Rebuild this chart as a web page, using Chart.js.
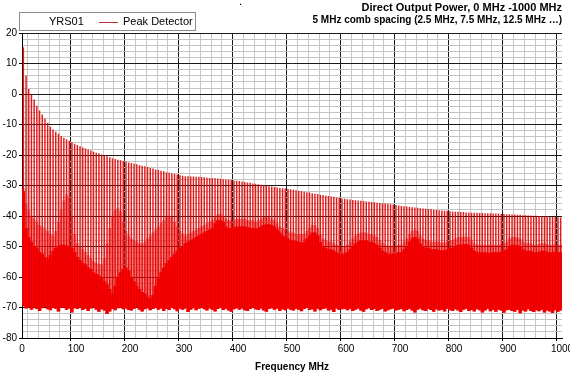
<!DOCTYPE html>
<html>
<head>
<meta charset="utf-8">
<title>Direct Output Power</title>
<script src="https://cdn.jsdelivr.net/npm/chart.js@4.4.1/dist/chart.umd.min.js"></script>
<style>
    html, body { margin: 0; padding: 0; background: #fff; }
    #wrap { position: relative; width: 570px; height: 380px; }
    #legend {
        position: absolute; left: 19px; top: 12px; width: 175px; height: 17px;
        border: 1px solid #8c8c8c; background: #fff;
        font: 11px 'Liberation Sans', Arial, sans-serif; color: #000;
    }
    #legend span { position: absolute; top: 2px; line-height: 13px; }
    #legend .swatch { position: absolute; left: 79px; top: 9px; width: 19px; height: 1px; background: #b83030; }
    #dot { position: absolute; left: 239px; top: -5px; font: 11px 'Liberation Sans', Arial, sans-serif; }
</style>
</head>
<body>
<div id="wrap">
    <canvas id="chart" width="570" height="380"></canvas>
    <div id="legend">
        <span style="left:29px">YRS01</span>
        <div class="swatch"></div>
        <span style="left:103px">Peak Detector</span>
    </div>
    <div id="dot">.</div>
</div>
<script>
// =========================
// DATA (dB, one entry per comb line)
// =========================
const combFreqs = [
    2.5, 7.5, 12.5, 17.5, 22.5, 27.5, 32.5, 37.5, 42.5, 47.5, 52.5, 57.5, 62.5, 67.5, 72.5, 77.5, 82.5, 87.5, 92.5, 97.5,
    102.5, 107.5, 112.5, 117.5, 122.5, 127.5, 132.5, 137.5, 142.5, 147.5, 152.5, 157.5, 162.5, 167.5, 172.5, 177.5, 182.5, 187.5, 192.5, 197.5,
    202.5, 207.5, 212.5, 217.5, 222.5, 227.5, 232.5, 237.5, 242.5, 247.5, 252.5, 257.5, 262.5, 267.5, 272.5, 277.5, 282.5, 287.5, 292.5, 297.5,
    302.5, 307.5, 312.5, 317.5, 322.5, 327.5, 332.5, 337.5, 342.5, 347.5, 352.5, 357.5, 362.5, 367.5, 372.5, 377.5, 382.5, 387.5, 392.5, 397.5,
    402.5, 407.5, 412.5, 417.5, 422.5, 427.5, 432.5, 437.5, 442.5, 447.5, 452.5, 457.5, 462.5, 467.5, 472.5, 477.5, 482.5, 487.5, 492.5, 497.5,
    502.5, 507.5, 512.5, 517.5, 522.5, 527.5, 532.5, 537.5, 542.5, 547.5, 552.5, 557.5, 562.5, 567.5, 572.5, 577.5, 582.5, 587.5, 592.5, 597.5,
    602.5, 607.5, 612.5, 617.5, 622.5, 627.5, 632.5, 637.5, 642.5, 647.5, 652.5, 657.5, 662.5, 667.5, 672.5, 677.5, 682.5, 687.5, 692.5, 697.5,
    702.5, 707.5, 712.5, 717.5, 722.5, 727.5, 732.5, 737.5, 742.5, 747.5, 752.5, 757.5, 762.5, 767.5, 772.5, 777.5, 782.5, 787.5, 792.5, 797.5,
    802.5, 807.5, 812.5, 817.5, 822.5, 827.5, 832.5, 837.5, 842.5, 847.5, 852.5, 857.5, 862.5, 867.5, 872.5, 877.5, 882.5, 887.5, 892.5, 897.5,
    902.5, 907.5, 912.5, 917.5, 922.5, 927.5, 932.5, 937.5, 942.5, 947.5, 952.5, 957.5, 962.5, 967.5, 972.5, 977.5, 982.5, 987.5, 992.5, 997.5,
];

// comb line tops
const peakLevels = [
    15.3, 5.9, 1.6, -0.3, -1.9, -3.9, -5.5, -6.8, -8.2, -9.5, -10.8, -11.7, -12.4, -13.1, -13.8, -14.4, -14.9, -15.4, -15.9, -16.4,
    -16.8, -17.2, -17.6, -17.9, -18.3, -18.6, -19.0, -19.3, -19.6, -19.9, -20.2, -20.5, -20.8, -21.1, -21.4, -21.6, -21.8, -22.0, -22.2, -22.5,
    -22.7, -22.9, -23.1, -23.4, -23.6, -23.8, -24.0, -24.3, -24.5, -24.8, -25.0, -25.2, -25.4, -25.7, -25.9, -26.1, -26.3, -26.5, -26.7, -26.9,
    -27.0, -27.0, -27.1, -27.1, -27.2, -27.2, -27.3, -27.4, -27.5, -27.6, -27.7, -27.7, -27.8, -27.9, -28.0, -28.1, -28.2, -28.3, -28.4, -28.5,
    -28.6, -28.8, -28.9, -29.1, -29.2, -29.4, -29.5, -29.7, -29.8, -30.0, -30.1, -30.3, -30.4, -30.6, -30.7, -30.9, -31.0, -31.1, -31.2, -31.3,
    -31.5, -31.6, -31.8, -32.0, -32.1, -32.3, -32.4, -32.6, -32.8, -32.9, -33.1, -33.2, -33.4, -33.5, -33.7, -33.8, -34.0, -34.1, -34.3, -34.4,
    -34.6, -34.7, -34.8, -34.9, -35.0, -35.1, -35.2, -35.3, -35.4, -35.5, -35.6, -35.7, -35.8, -35.9, -36.0, -36.1, -36.2, -36.3, -36.5, -36.6,
    -36.8, -36.9, -37.0, -37.1, -37.2, -37.3, -37.4, -37.5, -37.6, -37.7, -37.8, -37.9, -38.0, -38.1, -38.2, -38.3, -38.4, -38.4, -38.5, -38.6,
    -38.7, -38.7, -38.8, -38.8, -38.9, -38.9, -39.0, -39.0, -39.0, -39.1, -39.1, -39.2, -39.2, -39.2, -39.3, -39.3, -39.3, -39.4, -39.4, -39.5,
    -39.5, -39.6, -39.6, -39.7, -39.7, -39.8, -39.8, -39.9, -39.9, -40.0, -40.0, -40.1, -40.1, -40.2, -40.2, -40.3, -40.4, -40.4, -40.5, -40.6,
];

// upper edge of the medium-density spur region
const spurLevels = [
    -31, -36, -38, -40, -41, -42, -43, -43.5, -44.5, -45, -46, -46.5, -45, -42, -38, -35, -33, -34, -40, -46,
    -49, -50, -51, -52, -53, -54, -55, -55.5, -56, -56, -54, -49, -44, -40, -38, -37.5, -38.5, -42, -45, -46.5,
    -47.5, -48, -48.5, -49, -49, -48.5, -47.5, -46.5, -45.5, -44.5, -43.5, -42.5, -41.5, -40.5, -40, -40.5, -42, -43.5, -45, -46,
    -46.5, -46, -45.5, -45, -44.5, -44, -43.5, -43, -42.5, -42, -41.5, -40.5, -39.5, -39.5, -40, -41, -41.5, -41.5, -41.5, -41,
    -41, -41, -41, -41.5, -41.5, -41.5, -42, -41.5, -41, -40.5, -40.5, -40.5, -41, -41.5, -42.5, -43.5, -44, -44.5, -45, -45.5,
    -45.5, -46, -46, -46, -46, -45, -44, -43, -43, -44, -46, -47.5, -48, -48.5, -48.5, -49, -49.5, -50, -50, -50,
    -49.5, -48.5, -47.5, -46.5, -46, -45.5, -45.5, -45.5, -46, -46, -46.5, -47, -48, -49, -49.5, -50, -50, -50, -50, -49.5,
    -49.5, -48.5, -47.5, -46, -45, -44.5, -45, -46.5, -47.5, -48, -48, -48.5, -48.5, -48.5, -48.5, -48.8, -48.8, -48.5, -48, -48,
    -47.5, -47, -47, -46.8, -46.8, -47, -48, -49, -49.5, -49.5, -49.5, -49.5, -49.5, -49.5, -49.5, -49.5, -49.5, -49.3, -49, -48.5,
    -47.5, -47, -47, -47, -47.5, -48.5, -49, -49, -49, -49.5, -49.5, -49.3, -49, -49, -49.3, -49.5, -49.5, -49.3, -49.5, -49.5,
];

// top of the solid noise band
const noiseTop = [
    -32, -44, -47, -48.5, -50, -50.5, -52, -52.5, -53.5, -54, -53, -51.5, -50.5, -50, -49.5, -49.5, -49.8, -50, -50.5, -52,
    -53.5, -54.5, -55.5, -56, -57, -57.5, -58.5, -59, -59.5, -60.5, -61.5, -62.5, -64, -65.5, -63, -60, -58.5, -57.5, -57, -58,
    -60, -61.5, -63, -64, -65, -65.5, -66.5, -67, -66, -63, -60.5, -58.5, -57, -55.5, -54.5, -53.5, -52.5, -51.5, -50.5, -50,
    -49, -48.5, -48, -47.5, -47, -46.5, -46, -45.5, -45, -44.5, -44, -42.5, -41.5, -41.5, -42, -43.5, -44, -44, -43.8, -43.5,
    -43.5, -43.5, -43.5, -43.7, -44, -44, -44.2, -44, -43.5, -43, -42.8, -42.8, -43, -43.5, -44.5, -45.5, -46.5, -47, -47.5, -48,
    -48, -48.3, -48.6, -48.8, -48.5, -47.5, -46.5, -45.5, -45.5, -46.5, -48.5, -50, -50.5, -51, -51, -51.5, -52, -52.5, -52.5, -52.5,
    -52, -51, -50, -49, -48.5, -48, -48, -48, -48.5, -48.5, -49, -49.5, -50.5, -51.5, -52, -52.5, -52.5, -52.5, -52.5, -52,
    -52, -51, -50, -48.5, -47.5, -47, -47.5, -49, -50, -50.5, -50.5, -51, -51, -51, -51.2, -51.3, -51.3, -51, -50.5, -50.5,
    -50, -49.5, -49.5, -49.3, -49.3, -49.5, -50.5, -51.5, -52, -52, -52, -52, -52.2, -52.2, -52, -52, -52, -51.8, -51.5, -51,
    -50, -49.5, -49.5, -49.6, -50, -51, -51.5, -51.5, -51.5, -52, -52, -51.8, -51.5, -51.5, -51.8, -52, -52, -51.8, -52, -52,
];

// bottom of the noise band
const noiseFloor = [
    -69.5, -70.2, -69.8, -70.6, -69.9, -70.4, -71.0, -70.1, -69.7, -70.5, -70.8, -69.9, -70.3, -71.2, -70.0, -69.8, -70.6, -70.2, -71.5, -70.1,
    -70.4, -69.9, -70.7, -70.3, -71.0, -70.2, -69.8, -70.6, -71.3, -70.5, -70.9, -72.0, -71.2, -70.4, -70.8, -70.1, -69.9, -70.5, -70.2, -70.7,
    -70.9, -70.3, -69.8, -70.6, -71.2, -70.5, -70.1, -70.8, -70.4, -69.9, -70.6, -70.2, -71.0, -70.4, -70.7, -70.0, -70.5, -71.1, -70.3, -70.6,
    -70.2, -71.4, -70.6, -70.1, -70.8, -70.3, -69.9, -70.5, -70.9, -70.2, -70.6, -71.2, -70.4, -70.0, -70.7, -70.3, -70.9, -71.3, -70.5, -70.1,
    -70.6, -70.2, -70.8, -71.0, -70.4, -69.9, -70.5, -70.7, -70.2, -70.9, -71.3, -70.4, -70.1, -70.6, -70.3, -71.0, -70.5, -70.8, -70.2, -70.6,
    -70.9, -70.3, -70.6, -71.1, -70.4, -70.0, -70.7, -70.5, -71.2, -70.3, -70.8, -70.4, -70.1, -70.9, -70.6, -71.4, -70.2, -70.7, -70.5, -70.3,
    -70.8, -70.4, -71.0, -70.6, -70.2, -70.9, -71.3, -70.5, -70.1, -70.7, -70.4, -71.0, -70.6, -70.3, -71.2, -70.8, -70.5, -70.2, -70.9, -70.6,
    -70.4, -71.1, -70.7, -70.3, -70.9, -71.5, -70.6, -70.2, -70.8, -71.0, -70.4, -70.7, -71.3, -70.5, -70.9, -70.6, -71.2, -70.3, -70.8, -71.0,
    -70.5, -70.9, -71.4, -70.6, -70.3, -71.0, -70.7, -71.2, -70.5, -70.8, -71.5, -70.9, -70.4, -71.1, -70.7, -71.3, -70.6, -70.9, -71.6, -70.8,
    -70.6, -71.0, -71.3, -70.7, -71.8, -70.9, -71.2, -70.5, -71.0, -71.4, -70.8, -71.1, -70.6, -71.5, -70.9, -71.2, -71.7, -70.8, -71.3, -70.9,
];

const titleText = 'Direct Output Power, 0 MHz -1000 MHz';
const subtitleText = '5 MHz comb spacing (2.5 MHz, 7.5 MHz, 12.5 MHz \u2026)';
const xTitle = 'Frequency MHz';

// =========================
// HELPERS
// =========================
const FONT = "'Liberation Sans', Arial, sans-serif";

function band(lower, upper) {
    return combFreqs.map((f, i) => ({ x: f, y: [lower[i], upper[i]] }));
}

function barSet(label, data, thickness, color) {
    return {
        label,
        data,
        backgroundColor: color,
        borderWidth: 0,
        barThickness: thickness,
        grouped: false,
    };
}

function gridColor(step) {
    return (ctx) => (ctx.tick && ctx.tick.value % step === 0 ? '#1a1a1a' : '#c4c4c4');
}

function tickColor(step) {
    return (ctx) => (ctx.tick && ctx.tick.value % step === 0 ? '#000' : 'rgba(0,0,0,0)');
}

// =========================
// CHART
// =========================
Chart.defaults.font.family = FONT;
Chart.defaults.color = '#000';

new Chart(document.getElementById('chart'), {
    type: 'bar',
    data: {
        datasets: [
            barSet('Peak Detector', band(noiseFloor, peakLevels), 0.8, 'rgba(225,0,0,0.9)'),
            barSet('spurs', band(noiseTop, spurLevels), 2.2, 'rgba(255,20,20,0.5)'),
            barSet('noise', band(noiseFloor, noiseTop), 3, '#ff0000'),
        ],
    },
    options: {
        responsive: false,
        animation: false,
        layout: { padding: { left: 0, right: 8, top: 0, bottom: 0 } },
        plugins: {
            legend: { display: false },
            tooltip: { enabled: false },
            title: {
                display: true,
                text: titleText,
                align: 'end',
                color: '#000',
                font: { size: 11, weight: 'bold' },
                padding: { top: 1, bottom: 0 },
            },
            subtitle: {
                display: true,
                text: subtitleText,
                align: 'end',
                color: '#000',
                font: { size: 10, weight: 'bold' },
                padding: { top: 0, bottom: 7 },
            },
        },
        scales: {
            x: {
                type: 'linear',
                min: 0,
                max: 1000,
                offset: false,
                border: { color: '#000' },
                grid: { color: gridColor(100), tickColor: tickColor(100), tickLength: 3 },
                ticks: {
                    stepSize: 20,
                    autoSkip: false,
                    maxRotation: 0,
                    padding: 2,
                    font: { size: 10 },
                    callback: (v) => (v % 100 === 0 ? String(v) : ''),
                },
                title: {
                    display: true,
                    text: xTitle,
                    font: { size: 10, weight: 'bold' },
                    padding: { top: 0, bottom: 7 },
                },
                afterFit: (s) => {
                    s.height = 42;
                    s.paddingLeft = 0;
                    s.paddingRight = 0;
                },
            },
            y: {
                min: -80,
                max: 20,
                border: { color: '#000' },
                grid: { color: gridColor(10), tickColor: tickColor(10), tickLength: 3 },
                ticks: {
                    stepSize: 2,
                    autoSkip: false,
                    padding: 2,
                    font: { size: 10 },
                    callback: (v) => (v % 10 === 0 ? String(v) : ''),
                },
                afterFit: (s) => {
                    s.width = 22;
                    s.paddingTop = 0;
                    s.paddingBottom = 0;
                },
            },
        },
    },
});
</script>
</body>
</html>
